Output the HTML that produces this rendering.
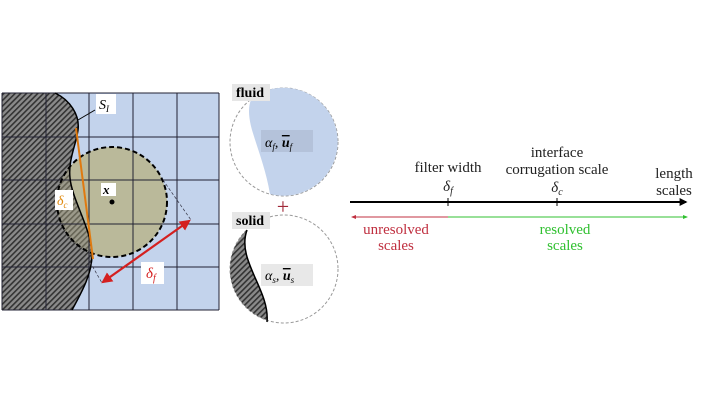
<!DOCTYPE html>
<html><head><meta charset="utf-8"><style>
html,body{margin:0;padding:0;background:#fff;}
svg{display:block;font-family:"Liberation Serif",serif;}
</style></head><body>
<svg width="720" height="405" viewBox="0 0 720 405" xmlns="http://www.w3.org/2000/svg">
<defs>
<pattern id="h" width="4" height="4" patternUnits="userSpaceOnUse" patternTransform="rotate(45)">
<rect width="4" height="4" fill="#8a8a8a"/><rect width="1.6" height="4" fill="#333"/>
</pattern>
<clipPath id="cc"><circle cx="112" cy="202" r="55"/></clipPath>
<clipPath id="sc"><circle cx="284" cy="269" r="54"/></clipPath>
<marker id="ar" viewBox="0 0 10 10" refX="8" refY="5" markerWidth="5" markerHeight="5" orient="auto-start-reverse"><path d="M0,0L10,5L0,10z" fill="#d42020"/></marker>
<marker id="ab" viewBox="0 0 10 10" refX="8" refY="5" markerWidth="4" markerHeight="4" orient="auto"><path d="M0,0L10,5L0,10z" fill="#000"/></marker>
<marker id="mr" viewBox="0 0 10 10" refX="8" refY="5" markerWidth="5" markerHeight="5" orient="auto-start-reverse"><path d="M0,1L10,5L0,9z" fill="#c03040"/></marker>
<marker id="mg" viewBox="0 0 10 10" refX="8" refY="5" markerWidth="5" markerHeight="5" orient="auto"><path d="M0,1L10,5L0,9z" fill="#30c030"/></marker>
</defs>
<rect x="2" y="93" width="217" height="217" fill="#c3d3ec"/>
<path d="M2,93 L55,93 C70,100 80,115 78,130 C76,145 68,160 70,178 C72,200 92,230 92,255 C92,275 80,295 72,310 L2,310 Z" fill="url(#h)"/>
<circle cx="112" cy="202" r="55" fill="#b8b48c" fill-opacity="0.85"/>
<g clip-path="url(#cc)"><path d="M2,93 L55,93 C70,100 80,115 78,130 C76,145 68,160 70,178 C72,200 92,230 92,255 C92,275 80,295 72,310 L2,310 Z" fill="url(#h)" opacity="0.55"/></g>
<g stroke="#223" stroke-width="1" fill="none">
<path d="M2,93H219M2,137H219M2,180H219M2,224H219M2,267H219M2,310H219M2,93V310M46,93V310M89,93V310M133,93V310M177,93V310M219,93V310"/>
</g>
<path d="M55,93 C70,100 80,115 78,130 C76,145 68,160 70,178 C72,200 92,230 92,255 C92,275 80,295 72,310" fill="none" stroke="#000" stroke-width="1.5"/>
<circle cx="112" cy="202" r="55" fill="none" stroke="#000" stroke-width="2" stroke-dasharray="5,3"/>
<circle cx="112" cy="202" r="2.5" fill="#000"/>
<path d="M163,180 L191,220 M90,262 L102,283" stroke="#334" stroke-width="0.7" stroke-dasharray="3,2"/>
<line x1="76" y1="128" x2="93" y2="259" stroke="#e07a10" stroke-width="2"/>
<line x1="103" y1="282" x2="189" y2="221" stroke="#d42020" stroke-width="2.2" marker-start="url(#ar)" marker-end="url(#ar)"/>
<line x1="95" y1="110" x2="78" y2="120" stroke="#000" stroke-width="1"/>
<rect x="96" y="94" width="20" height="20" fill="#fff"/>
<text x="99" y="109" font-size="14" font-style="italic">S<tspan font-size="9" dy="3">I</tspan></text>
<rect x="101" y="183" width="15" height="13" fill="#fff"/>
<text x="103" y="194" font-size="13" font-weight="bold" font-style="italic">x</text>
<rect x="55" y="190" width="18" height="20" fill="#fff"/>
<text x="57" y="205" font-size="14" font-style="italic" fill="#e08a10">δ<tspan font-size="9" dy="3">c</tspan></text>
<rect x="141" y="262" width="23" height="22" fill="#fff"/>
<text x="146" y="278" font-size="15" font-style="italic" fill="#d42020">δ<tspan font-size="10" dy="3">f</tspan></text>
<circle cx="284" cy="142" r="54" fill="#fff" stroke="#999" stroke-dasharray="3,2"/>
<path d="M252,98 A54,54 0 1 1 270,194 C266,170 258,150 252,130 C248,115 248,105 252,98 Z" fill="#c3d3ec"/>
<rect x="232" y="84" width="38" height="17" fill="#e6e6e6"/>
<text x="236" y="97" font-size="14" font-weight="bold">fluid</text>
<rect x="261" y="130" width="52" height="22" fill="#b4c2da"/>
<text x="265" y="147" font-size="14" font-style="italic">α<tspan font-size="9" dy="3">f</tspan><tspan dy="-3">, </tspan><tspan font-weight="bold" text-decoration="overline">u</tspan><tspan font-size="9" dy="3">f</tspan></text>
<text x="283" y="214" font-size="22" fill="#a02838" text-anchor="middle">+</text>
<circle cx="284" cy="269" r="54" fill="#fff" stroke="#999" stroke-dasharray="3,2"/>
<g clip-path="url(#sc)"><path d="M200,215 L247,230 C236,260 270,290 267,322 L200,330 Z" fill="url(#h)"/></g>
<path d="M247,230 C236,260 270,290 267,322" fill="none" stroke="#000" stroke-width="1.5"/>
<rect x="232" y="212" width="38" height="17" fill="#e6e6e6"/>
<text x="236" y="225" font-size="14" font-weight="bold">solid</text>
<rect x="261" y="264" width="52" height="22" fill="#e8e8e8"/>
<text x="265" y="280" font-size="14" font-style="italic">α<tspan font-size="9" dy="3">s</tspan><tspan dy="-3">, </tspan><tspan font-weight="bold" text-decoration="overline">u</tspan><tspan font-size="9" dy="3">s</tspan></text>
<line x1="350" y1="202" x2="686" y2="202" stroke="#000" stroke-width="2" marker-end="url(#ab)"/>
<line x1="448" y1="198" x2="448" y2="206" stroke="#000"/>
<line x1="557" y1="198" x2="557" y2="206" stroke="#000"/>
<line x1="448" y1="217" x2="352" y2="217" stroke="#c03040" stroke-width="1" marker-end="url(#mr)"/>
<line x1="448" y1="217" x2="687" y2="217" stroke="#30c030" stroke-width="1" marker-end="url(#mg)"/>
<g font-size="15" fill="#222" text-anchor="middle">
<text x="448" y="172">filter width</text>
<text x="448" y="191" font-style="italic">δ<tspan font-size="10" dy="3">f</tspan></text>
<text x="557" y="157">interface</text>
<text x="557" y="174">corrugation scale</text>
<text x="557" y="192" font-style="italic">δ<tspan font-size="10" dy="3">c</tspan></text>
<text x="674" y="178">length</text>
<text x="674" y="195">scales</text>
<text x="396" y="234" fill="#c03040">unresolved</text>
<text x="396" y="250" fill="#c03040">scales</text>
<text x="565" y="234" fill="#30c030">resolved</text>
<text x="565" y="250" fill="#30c030">scales</text>
</g>
</svg>
</body></html>
